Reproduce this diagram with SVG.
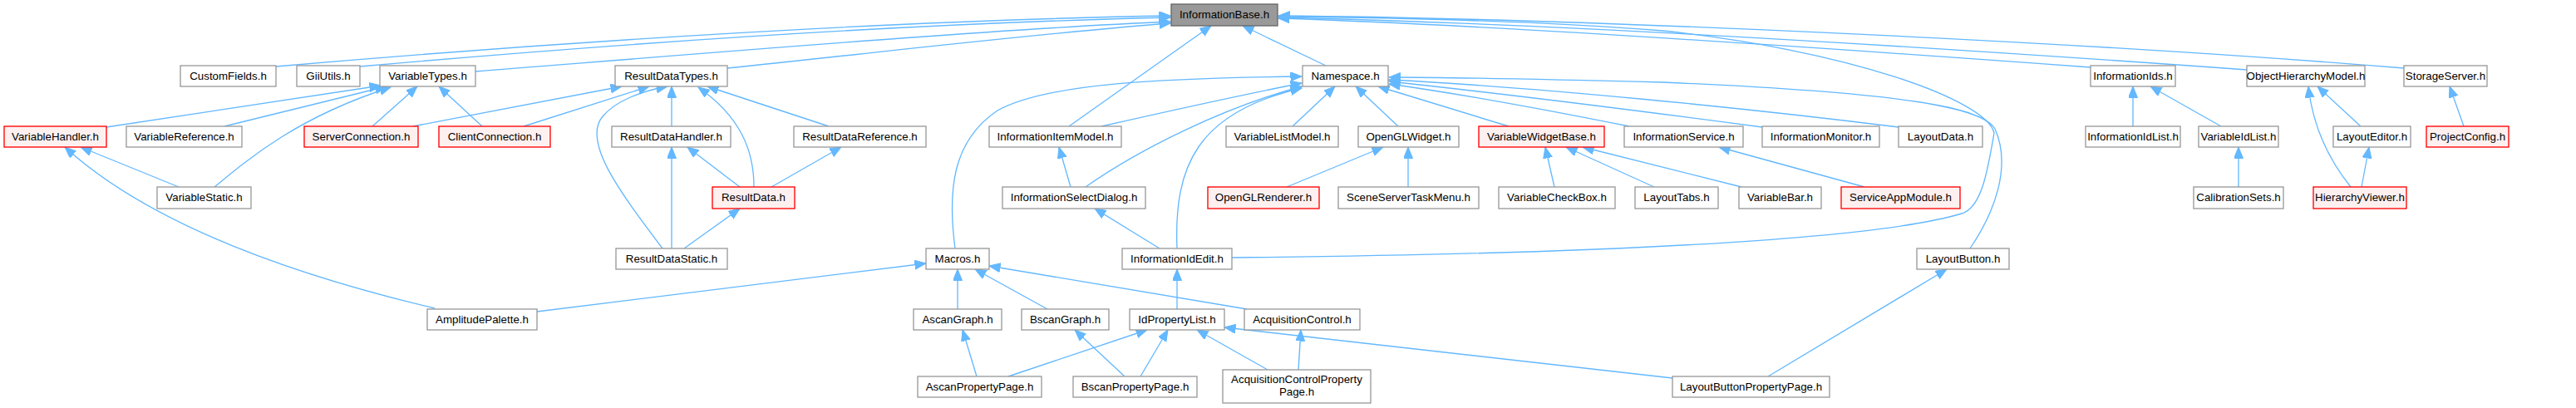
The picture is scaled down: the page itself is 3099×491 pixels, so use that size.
<svg xmlns="http://www.w3.org/2000/svg" width="3099" height="491" viewBox="0 0 3099 491">
<style>
text{font-family:"Liberation Sans",Arial,Helvetica,sans-serif;font-size:13.33px;text-anchor:middle;fill:#000}
.n rect{fill:#fff;stroke:#999;stroke-width:1.33}
.r rect{fill:#fff0f0;stroke:#f00;stroke-width:1.33}
.root rect{fill:#999;stroke:#666;stroke-width:1.33}
.e{fill:none;stroke:#63b8ff;stroke-width:1.33;marker-end:url(#a)}
</style>
<defs>
<marker id="a" markerUnits="userSpaceOnUse" markerWidth="15" markerHeight="12" refX="13.5" refY="5.5" orient="auto">
<path d="M0,0 L13.5,5.5 L0,11 Z" fill="#63b8ff" stroke="#63b8ff" stroke-width="1"/>
</marker>
</defs>
<rect width="3099" height="491" fill="#fff"/>
<g id="connectors">
<path class="e" d="M332,80 C700,48 1100,24 1408,19"/>
<path class="e" d="M433,80 C750,52 1100,28 1408,21"/>
<path class="e" d="M572,86 C900,60 1200,35 1408,26"/>
<path class="e" d="M875,82 C1050,64 1250,40 1408,28"/>
<path class="e" d="M1286,152 L1457,31"/>
<path class="e" d="M1595,79 L1495,31"/>
<path class="e" d="M2515,81 C2200,58 1800,30 1538,22"/>
<path class="e" d="M2703,84 C2300,55 1850,28 1538,21"/>
<path class="e" d="M2892,82 C2500,50 1900,22 1538,19"/>
<path class="e" d="M1482,310 C1900,306 2250,290 2360,257 C2385,250 2392,200 2399,160 C2390,120 2220,60 2000,37 C1850,25 1650,21 1538,20"/>
<path class="e" d="M2370,299 C2400,255 2420,200 2400,155 C2385,130 2300,112 2000,99 C1880,96 1760,93 1671,93"/>
<path class="e" d="M1555,152 L1606,104"/>
<path class="e" d="M1682,152 L1631,104"/>
<path class="e" d="M1815,152 L1658,104"/>
<path class="e" d="M1960,152 C1850,130 1750,112 1671,101"/>
<path class="e" d="M2120,153 C2000,137 1820,114 1671,98"/>
<path class="e" d="M2284,153 C2100,130 1850,105 1671,96"/>
<path class="e" d="M1149,299 C1140,230 1145,170 1200,133 C1260,100 1400,94 1566,92"/>
<path class="e" d="M1325,152 C1400,135 1500,113 1566,100"/>
<path class="e" d="M1306,225 C1370,180 1470,130 1566,104"/>
<path class="e" d="M1416,299 C1412,200 1440,135 1566,106"/>
<path class="e" d="M128,153 L458,103"/>
<path class="e" d="M270,152 L465,104"/>
<path class="e" d="M258,225 C300,190 360,140 470,105"/>
<path class="e" d="M448,152 L502,104"/>
<path class="e" d="M580,152 L528,104"/>
<path class="e" d="M497,152 L748,104"/>
<path class="e" d="M630,152 L781,104"/>
<path class="e" d="M797,299 C745,230 700,170 725,140 C740,122 770,110 803,104"/>
<path class="e" d="M808,152 L808,104"/>
<path class="e" d="M907,225 C907,180 890,140 840,105"/>
<path class="e" d="M997,152 L851,104"/>
<path class="e" d="M808,299 L808,177"/>
<path class="e" d="M890,225 L827,177"/>
<path class="e" d="M928,225 L1012,177"/>
<path class="e" d="M823,299 L890,251"/>
<path class="e" d="M215,225 L97,177"/>
<path class="e" d="M523,371 C350,330 180,270 78,177"/>
<path class="e" d="M646,375 L1114,317"/>
<path class="e" d="M1152,372 L1152,324"/>
<path class="e" d="M1260,372 L1173,324"/>
<path class="e" d="M1500,372 L1190,320"/>
<path class="e" d="M1288,225 L1274,177"/>
<path class="e" d="M1395,299 L1317,251"/>
<path class="e" d="M1416,372 L1416,324"/>
<path class="e" d="M1213,453 L1380,397"/>
<path class="e" d="M1372,453 L1405,397"/>
<path class="e" d="M1525,445 L1440,397"/>
<path class="e" d="M2012,455 C1800,430 1600,410 1473,394"/>
<path class="e" d="M1175,453 L1158,397"/>
<path class="e" d="M1353,453 L1293,397"/>
<path class="e" d="M1562,445 L1565,397"/>
<path class="e" d="M2127,453 L2342,324"/>
<path class="e" d="M1548,225 L1664,177"/>
<path class="e" d="M1694,225 L1694,177"/>
<path class="e" d="M1870,225 L1859,177"/>
<path class="e" d="M1990,225 L1884,177"/>
<path class="e" d="M2095,225 L1904,177"/>
<path class="e" d="M2243,225 L2068,177"/>
<path class="e" d="M2566,152 L2566,104"/>
<path class="e" d="M2672,152 L2587,104"/>
<path class="e" d="M2693,225 L2693,177"/>
<path class="e" d="M2840,152 L2788,104"/>
<path class="e" d="M2828,225 C2800,190 2782,150 2777,104"/>
<path class="e" d="M2841,225 L2850,177"/>
<path class="e" d="M2964,152 L2947,104"/>
</g>
<g id="InformationBase" class="root"><rect x="1409" y="5" width="128" height="26"/><text x="1473" y="22">InformationBase.h</text></g>
<g id="CustomFields" class="n"><rect x="217" y="79" width="115" height="25"/><text x="274.5" y="96">CustomFields.h</text></g>
<g id="GiiUtils" class="n"><rect x="357" y="79" width="76" height="25"/><text x="395" y="96">GiiUtils.h</text></g>
<g id="VariableTypes" class="n"><rect x="457" y="79" width="115" height="25"/><text x="514.5" y="96">VariableTypes.h</text></g>
<g id="ResultDataTypes" class="n"><rect x="740" y="79" width="135" height="25"/><text x="807.5" y="96">ResultDataTypes.h</text></g>
<g id="Namespace" class="n"><rect x="1567" y="79" width="103" height="25"/><text x="1618.5" y="96">Namespace.h</text></g>
<g id="InformationIds" class="n"><rect x="2515" y="79" width="102" height="25"/><text x="2566" y="96">InformationIds.h</text></g>
<g id="ObjectHierarchyModel" class="n"><rect x="2703" y="79" width="142" height="25"/><text x="2774" y="96">ObjectHierarchyModel.h</text></g>
<g id="StorageServer" class="n"><rect x="2892" y="79" width="100" height="25"/><text x="2942" y="96">StorageServer.h</text></g>
<g id="VariableHandler" class="r"><rect x="5" y="152" width="123" height="25"/><text x="66.5" y="169">VariableHandler.h</text></g>
<g id="VariableReference" class="n"><rect x="152" y="152" width="139" height="25"/><text x="221.5" y="169">VariableReference.h</text></g>
<g id="ServerConnection" class="r"><rect x="366" y="152" width="137" height="25"/><text x="434.5" y="169">ServerConnection.h</text></g>
<g id="ClientConnection" class="r"><rect x="528" y="152" width="134" height="25"/><text x="595" y="169">ClientConnection.h</text></g>
<g id="ResultDataHandler" class="n"><rect x="736" y="152" width="143" height="25"/><text x="807.5" y="169">ResultDataHandler.h</text></g>
<g id="ResultDataReference" class="n"><rect x="955" y="152" width="159" height="25"/><text x="1034.5" y="169">ResultDataReference.h</text></g>
<g id="InformationItemModel" class="n"><rect x="1190" y="152" width="159" height="25"/><text x="1269.5" y="169">InformationItemModel.h</text></g>
<g id="VariableListModel" class="n"><rect x="1475" y="152" width="135" height="25"/><text x="1542.5" y="169">VariableListModel.h</text></g>
<g id="OpenGLWidget" class="n"><rect x="1634" y="152" width="121" height="25"/><text x="1694.5" y="169">OpenGLWidget.h</text></g>
<g id="VariableWidgetBase" class="r"><rect x="1779" y="152" width="151" height="25"/><text x="1854.5" y="169">VariableWidgetBase.h</text></g>
<g id="InformationService" class="n"><rect x="1954" y="152" width="143" height="25"/><text x="2025.5" y="169">InformationService.h</text></g>
<g id="InformationMonitor" class="n"><rect x="2120" y="152" width="141" height="25"/><text x="2190.5" y="169">InformationMonitor.h</text></g>
<g id="LayoutData" class="n"><rect x="2284" y="152" width="101" height="25"/><text x="2334.5" y="169">LayoutData.h</text></g>
<g id="InformationIdList" class="n"><rect x="2509" y="152" width="114" height="25"/><text x="2566" y="169">InformationIdList.h</text></g>
<g id="VariableIdList" class="n"><rect x="2645" y="152" width="96" height="25"/><text x="2693" y="169">VariableIdList.h</text></g>
<g id="LayoutEditor" class="n"><rect x="2807" y="152" width="93" height="25"/><text x="2853.5" y="169">LayoutEditor.h</text></g>
<g id="ProjectConfig" class="r"><rect x="2919" y="152" width="99" height="25"/><text x="2968.5" y="169">ProjectConfig.h</text></g>
<g id="VariableStatic" class="n"><rect x="189" y="225" width="113" height="26"/><text x="245.5" y="242">VariableStatic.h</text></g>
<g id="ResultData" class="r"><rect x="857" y="225" width="99" height="26"/><text x="906.5" y="242">ResultData.h</text></g>
<g id="InformationSelectDialog" class="n"><rect x="1206" y="225" width="172" height="26"/><text x="1292" y="242">InformationSelectDialog.h</text></g>
<g id="OpenGLRenderer" class="r"><rect x="1453" y="225" width="134" height="26"/><text x="1520" y="242">OpenGLRenderer.h</text></g>
<g id="SceneServerTaskMenu" class="n"><rect x="1610" y="225" width="169" height="26"/><text x="1694.5" y="242">SceneServerTaskMenu.h</text></g>
<g id="VariableCheckBox" class="n"><rect x="1803" y="225" width="140" height="26"/><text x="1873" y="242">VariableCheckBox.h</text></g>
<g id="LayoutTabs" class="n"><rect x="1967" y="225" width="100" height="26"/><text x="2017" y="242">LayoutTabs.h</text></g>
<g id="VariableBar" class="n"><rect x="2092" y="225" width="99" height="26"/><text x="2141.5" y="242">VariableBar.h</text></g>
<g id="ServiceAppModule" class="r"><rect x="2215" y="225" width="143" height="26"/><text x="2286.5" y="242">ServiceAppModule.h</text></g>
<g id="CalibrationSets" class="n"><rect x="2639" y="225" width="108" height="26"/><text x="2693" y="242">CalibrationSets.h</text></g>
<g id="HierarchyViewer" class="r"><rect x="2783" y="225" width="112" height="26"/><text x="2839" y="242">HierarchyViewer.h</text></g>
<g id="ResultDataStatic" class="n"><rect x="741" y="299" width="134" height="25"/><text x="808" y="316">ResultDataStatic.h</text></g>
<g id="Macros" class="n"><rect x="1114" y="299" width="76" height="25"/><text x="1152" y="316">Macros.h</text></g>
<g id="InformationIdEdit" class="n"><rect x="1350" y="299" width="132" height="25"/><text x="1416" y="316">InformationIdEdit.h</text></g>
<g id="LayoutButton" class="n"><rect x="2306" y="299" width="111" height="25"/><text x="2361.5" y="316">LayoutButton.h</text></g>
<g id="AmplitudePalette" class="n"><rect x="514" y="372" width="132" height="25"/><text x="580" y="389">AmplitudePalette.h</text></g>
<g id="AscanGraph" class="n"><rect x="1099" y="372" width="106" height="25"/><text x="1152" y="389">AscanGraph.h</text></g>
<g id="BscanGraph" class="n"><rect x="1229" y="372" width="105" height="25"/><text x="1281.5" y="389">BscanGraph.h</text></g>
<g id="IdPropertyList" class="n"><rect x="1359" y="372" width="114" height="25"/><text x="1416" y="389">IdPropertyList.h</text></g>
<g id="AcquisitionControl" class="n"><rect x="1497" y="372" width="139" height="25"/><text x="1566.5" y="389">AcquisitionControl.h</text></g>
<g id="AscanPropertyPage" class="n"><rect x="1104" y="453" width="149" height="25"/><text x="1178.5" y="470">AscanPropertyPage.h</text></g>
<g id="BscanPropertyPage" class="n"><rect x="1291" y="453" width="149" height="25"/><text x="1365.5" y="470">BscanPropertyPage.h</text></g>
<g id="AcquisitionControlPropertyPage" class="n"><rect x="1471" y="445" width="178" height="40"/><text x="1560" y="461">AcquisitionControlProperty</text><text x="1560" y="476">Page.h</text></g>
<g id="LayoutButtonPropertyPage" class="n"><rect x="2012" y="453" width="189" height="25"/><text x="2106.5" y="470">LayoutButtonPropertyPage.h</text></g>
</svg>
